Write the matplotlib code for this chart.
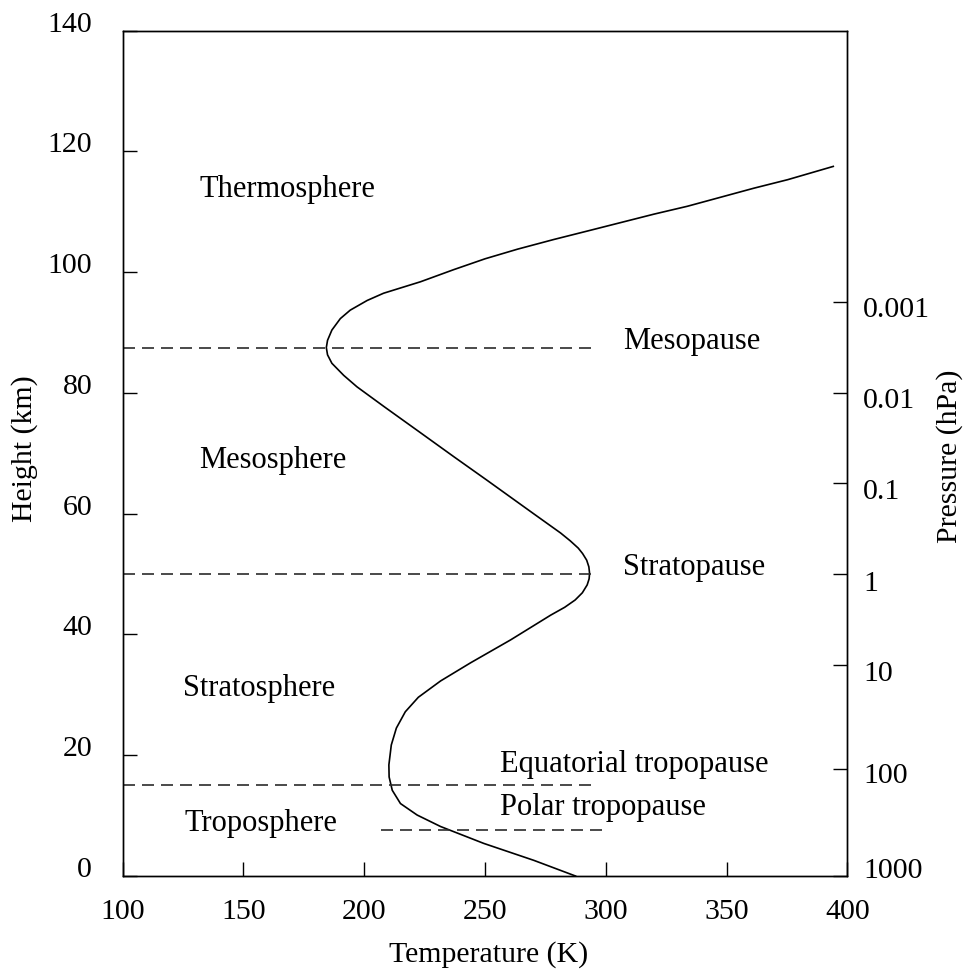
import matplotlib
matplotlib.use('Agg')
import matplotlib.pyplot as pyplot
from matplotlib import transforms
from matplotlib.ticker import FixedLocator, NullFormatter

pyplot.rcParams['font.family'] = ['Liberation Serif', 'DejaVu Serif']
pyplot.rcParams['font.size'] = 21.5

# temperature profile
height_km = [0.0, 2.6, 5.4, 8.2, 10.1, 12.0, 14.2, 16.4, 18.4, 21.7, 24.5, 27.2,
             29.6, 32.3, 35.3, 39.1, 43.2, 44.5, 45.7, 46.9, 48.2, 49.2, 50.1,
             51.2, 52.3, 53.4, 54.3, 55.5, 56.8, 60.0, 65.6, 69.4, 73.6, 77.7,
             81.0, 82.9, 84.9, 86.3, 87.5, 88.7, 90.4, 92.3, 93.7, 95.3, 96.5,
             98.4, 100.4, 102.2, 103.8, 105.4, 106.8, 108.2, 109.6, 110.9,
             112.4, 113.9, 115.3, 117.5]
temperature_k = [287.5, 270.2, 249.5, 231.6, 221.9, 215.0, 211.6, 210.3, 210.2,
                 211.2, 213.3, 217.0, 222.4, 231.6, 244.0, 260.6, 277.2, 283.0,
                 287.3, 290.3, 292.3, 293.1, 293.3, 293.0, 292.1, 290.4, 288.6,
                 285.3, 281.3, 270.1, 250.6, 237.2, 222.6, 208.3, 197.0, 191.5,
                 186.6, 184.8, 184.3, 184.8, 186.6, 190.1, 194.2, 201.2, 208.0,
                 223.3, 237.0, 250.0, 263.5, 278.5, 292.4, 306.2, 320.0, 333.8,
                 347.6, 361.4, 375.3, 394.2]

# boundaries (km) and their temperature extent (K)
boundary_heights = [87.5, 50.0, 15.0]
boundary_extent = [100, 295]
polar_height = 7.6
polar_extent = [207, 300]

# layer / boundary names with (T, z) anchor
layer_labels = [
    ('Thermosphere', 131.8, 112.5),
    ('Mesosphere', 131.8, 67.5),
    ('Stratosphere', 125.0, 29.8),
    ('Troposphere', 125.4, 7.5),
    ('Mesopause', 307.0, 87.3),
    ('Stratopause', 307.0, 49.8),
    ('Equatorial tropopause', 256.4, 17.25),
    ('Polar tropopause', 256.4, 10.1),
]

height_ticks = [0, 20, 40, 60, 80, 100, 120, 140]
temperature_ticks = [100, 150, 200, 250, 300, 350, 400]

pressure_labels = ['0.001', '0.01', '0.1', '1', '10', '100', '1000']
pressure_tick_km = [95.0, 80.0, 65.0, 50.0, 35.0, 17.7, 0.0]
pressure_label_km = [94.2, 79.1, 64.1, 48.8, 34.0, 17.05, 1.3]

fig = pyplot.figure(figsize=(9.74, 9.75), dpi=100)
ax = fig.add_axes([0.126, 0.1015, 0.7439, 0.8672])

ax.plot(temperature_k, height_km, color='black', linewidth=1.2)

dash = (0, (7.2, 4.2))
for z in boundary_heights:
    ax.plot(boundary_extent, [z, z], color='#2b2b2b', linewidth=1.2, linestyle=dash)
ax.plot(polar_extent, [polar_height, polar_height], color='#2b2b2b',
        linewidth=1.2, linestyle=dash)

for name, t, z in layer_labels:
    ax.text(t, z, name, ha='left', va='baseline', fontsize=22)

ax.set_xlim(100, 400)
ax.set_ylim(0, 140)
ax.set_xticks(temperature_ticks)
ax.set_yticks(height_ticks)
ax.tick_params(axis='both', direction='in', length=10, width=1.0)
ax.tick_params(axis='y', right=False, pad=22)
ax.tick_params(axis='x', top=False, pad=16.5)
for spine in ax.spines.values():
    spine.set_linewidth(1.0)

# left labels sit a little above their ticks
shift = transforms.ScaledTranslation(0, 9 / 100.0, fig.dpi_scale_trans)
for label in ax.get_yticklabels():
    label.set_transform(label.get_transform() + shift)

# pressure axis: ticks and labels at slightly different heights
ax2 = ax.twinx()
ax2.set_ylim(0, 140)
ax2.yaxis.set_major_locator(FixedLocator(pressure_label_km))
ax2.set_yticklabels(pressure_labels)
ax2.yaxis.set_minor_locator(FixedLocator(pressure_tick_km))
ax2.yaxis.set_minor_formatter(NullFormatter())
ax2.tick_params(axis='y', which='major', length=0, pad=11.3)
ax2.tick_params(axis='y', which='minor', direction='in', length=10, width=1.0)
for spine in ax2.spines.values():
    spine.set_linewidth(1.0)

fig.text(25 / 974, 1 - 449 / 975, 'Height (km)', rotation=90,
         ha='center', va='center')
fig.text(488.5 / 974, 1 - 955 / 975, 'Temperature (K)',
         ha='center', va='center')
fig.text(950 / 974, 1 - 456 / 975, 'Pressure (hPa)', rotation=90,
         ha='center', va='center')

pyplot.savefig('out.png', dpi=100)
